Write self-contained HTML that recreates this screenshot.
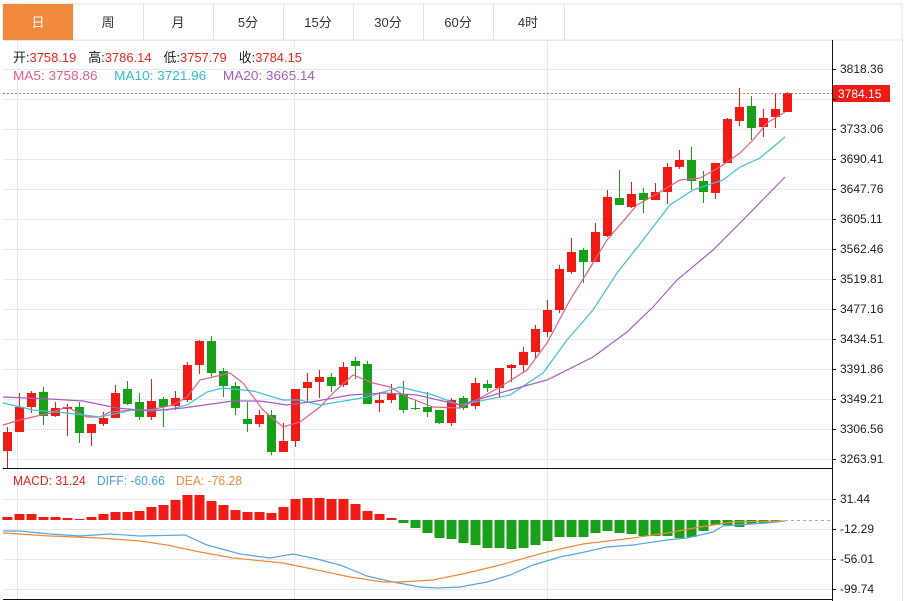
<!DOCTYPE html>
<html><head><meta charset="utf-8"><style>
html,body{margin:0;padding:0;background:#fff;width:911px;height:601px;overflow:hidden;font-family:"Liberation Sans","Noto Sans CJK SC",sans-serif}
</style></head><body>
<svg id="s" width="911" height="601" xmlns="http://www.w3.org/2000/svg" font-family="Liberation Sans, Noto Sans CJK SC, sans-serif">
<rect x="0" y="0" width="911" height="601" fill="#fff"/>
<rect x="3" y="4" width="899" height="36" fill="#fff" stroke="#e3e3e3"/>
<rect x="3" y="4" width="70" height="36" fill="#f0893c"/>
<g stroke="#e3e3e3"><line x1="143.5" y1="4" x2="143.5" y2="40"/><line x1="213.5" y1="4" x2="213.5" y2="40"/><line x1="283.5" y1="4" x2="283.5" y2="40"/><line x1="353.5" y1="4" x2="353.5" y2="40"/><line x1="423.5" y1="4" x2="423.5" y2="40"/><line x1="493.5" y1="4" x2="493.5" y2="40"/><line x1="564.5" y1="4" x2="564.5" y2="40"/></g>
<g font-size="13" text-anchor="middle" fill="#333">
<text x="38" y="27" fill="#fff">日</text><text x="108" y="27">周</text><text x="178" y="27">月</text><text x="248" y="27">5分</text><text x="318" y="27">15分</text><text x="388" y="27">30分</text><text x="458" y="27">60分</text><text x="528" y="27">4时</text>
</g>
<g id="grid" stroke="#e6e9ee" stroke-width="1"></g>
<line x1="3" y1="468.5" x2="832" y2="468.5" stroke="#111"/>
<line x1="3" y1="599.5" x2="832" y2="599.5" stroke="#111"/>
<line x1="832.5" y1="40" x2="832.5" y2="601" stroke="#111"/>
<line x1="902.5" y1="40" x2="902.5" y2="601" stroke="#e3e3e3"/>
<g id="c"></g>
<line x1="3" y1="93.5" x2="832" y2="93.5" stroke="#f06060" stroke-dasharray="2,2"/>
<line x1="785" y1="520.5" x2="832" y2="520.5" stroke="#aab" stroke-dasharray="3,3"/>
<rect x="833" y="85" width="57" height="17" fill="#ee1c14"/>
<text x="838" y="98" font-size="12" fill="#fff">3784.15</text>
<g id="ax" font-size="12" fill="#222"></g>
<g font-size="13">
<text x="13" y="62" textLength="289" lengthAdjust="spacingAndGlyphs"><tspan fill="#222">开:</tspan><tspan fill="#e8231c">3758.19</tspan><tspan fill="#222" dx="12">高:</tspan><tspan fill="#e8231c">3786.14</tspan><tspan fill="#222" dx="12">低:</tspan><tspan fill="#e8231c">3757.79</tspan><tspan fill="#222" dx="12">收:</tspan><tspan fill="#e8231c">3784.15</tspan></text>
<text x="13" y="80" textLength="302" lengthAdjust="spacingAndGlyphs"><tspan fill="#e0608e">MA5: 3758.86</tspan><tspan fill="#33b9cf" dx="16">MA10: 3721.96</tspan><tspan fill="#a45ec0" dx="16">MA20: 3665.14</tspan></text>
<text x="13" y="485" textLength="229" lengthAdjust="spacingAndGlyphs"><tspan fill="#e8231c">MACD: 31.24</tspan><tspan fill="#4b9de0" dx="12">DIFF: -60.66</tspan><tspan fill="#f08a3c" dx="12">DEA: -76.28</tspan></text>
</g>
</svg>
<script>
var NS="http://www.w3.org/2000/svg";
function el(p,t,a){var e=document.createElementNS(NS,t);for(var k in a)e.setAttribute(k,a[k]);document.getElementById(p).appendChild(e);return e;}
var labs=["3818.36","3775.71","3733.06","3690.41","3647.76","3605.11","3562.46","3519.81","3477.16","3434.51","3391.86","3349.21","3306.56","3263.91"];
for(var i=0;i<14;i++){var y=69+i*30;el('grid','line',{x1:3,x2:832,y1:y+.5,y2:y+.5});
 el('ax','line',{x1:832,x2:836,y1:y+.5,y2:y+.5,stroke:'#111'});
 if(i!=1){var t=el('ax','text',{x:840,y:y+4});t.textContent=labs[i];}}
el('grid','line',{x1:3,x2:832,y1:40.5,y2:40.5});
var ml=[["31.44",499],["-12.29",529],["-56.01",559],["-99.74",589]];
ml.forEach(function(m){el('grid','line',{x1:3,x2:832,y1:m[1]+.5,y2:m[1]+.5});el('ax','line',{x1:832,x2:836,y1:m[1]+.5,y2:m[1]+.5,stroke:'#111'});var t=el('ax','text',{x:840,y:m[1]+4});t.textContent=m[0];});
[17.5,294.5,547.5].forEach(function(x){el('grid','line',{x1:x,x2:x,y1:40,y2:599});});
var C=[[1,432,451,427,468],[1,407,432,393,432],[1,393,407,391,413],[0,392,416,387,425],[1,408,416,402,417],[1,407,409,404,436],[0,407,433,402,443],[1,424,433,424,446],[1,418,424,412,426],[1,393,418,385,418],
[0,389,404,381,405],[0,402,417,393,420],[1,401,417,379,420],[0,399,407,397,427],[1,398,406,391,410],[1,365,400,362,402],[1,341,365,340,374],[0,341,373,336,377],[0,371,386,368,397],[0,386,408,382,415],
[0,419,424,402,432],[1,415,424,410,427],[0,415,452,410,455],[1,441,452,423,452],[1,389,441,389,447],[1,382,388,373,401],[1,377,382,370,398],[0,377,386,373,392],[1,367,385,362,387],[0,361,366,357,379],
[0,364,404,361,404],[1,400,403,392,412],[1,394,400,384,403],[0,394,410,381,413],[0,408,409,400,410],[0,407,412,392,417],[0,410,423,410,424],[1,400,423,398,426],[0,398,408,396,410],[1,383,406,378,409],
[0,384,388,380,392],[1,368,388,368,398],[1,365,368,364,382],[1,352,365,347,373],[1,329,352,325,358],[1,310,332,300,337],[1,269,310,265,313],[1,252,272,238,274],[0,250,262,248,283],[1,232,262,223,262],
[1,197,236,190,237],[0,198,205,170,205],[1,194,207,182,208],[0,193,200,188,213],[1,192,200,183,200],[1,167,192,163,204],[1,160,167,150,169],[0,160,181,147,190],[0,181,192,171,203],[1,163,193,163,199],
[1,119,163,118,163],[1,107,121,88,126],[0,106,128,96,140],[1,118,127,109,137],[1,109,117,93,128],[1,93,112,92,112]];
var R='#ee1c14',G='#18a018';
C.forEach(function(c,i){var x=7+12*i,col=c[0]?R:G;
 el('c','line',{x1:x+.5,x2:x+.5,y1:c[3],y2:c[4],stroke:col});
 el('c','rect',{x:x-4,y:c[1],width:9,height:Math.max(1,c[2]-c[1]),fill:col});});
function pl(pts,col){el('c','polyline',{points:pts,fill:'none',stroke:col,'stroke-width':1.2});}
pl("3,425 20,420 50,413 67,407 87,417 100,417 110,412 133,410 150,410 173,405 187,397 200,380 230,373 243,383 263,410 283,427 300,422 320,407 333,393 353,375 373,383 390,387 407,397 433,407 460,408 480,398 500,387 527,370 547,343 570,300 593,263 607,240 637,205 660,192 680,180 700,178 720,167 740,153 753,140 767,123 785,112","#e0608e");
pl("3,403 33,410 67,413 100,417 133,410 167,410 187,405 207,392 223,388 253,391 283,400 300,400 320,405 350,400 367,397 400,387 433,395 460,405 510,395 543,373 567,340 593,310 617,273 643,240 670,205 693,190 723,180 740,167 760,158 785,137","#40c0d4");
pl("3,397 50,399 83,401 117,408 150,411 183,408 233,401 260,401 287,405 317,401 350,395 383,393 417,395 460,405 510,390 547,380 593,357 627,332 653,307 677,280 713,250 743,220 785,177","#a45ec0");
var M=[517,514,514,517,517,518,519,517,514,512,512,511,507,505,500,495,495,501,505,510,512,512,513,507,499,498,498,499,499,504,511,514,518,
523,528,533,538,539,543,545,548,548,549,548,545,541,537,537,537,533,531,533,534,536,536,536,538,537,531,525,525,527,524,523,521];
M.forEach(function(v,i){var x=7+12*i;if(v<520)el('c','rect',{x:x-4.5,y:v,width:10,height:520-v,fill:R});else el('c','rect',{x:x-4.5,y:520,width:10,height:v-520,fill:G});});
pl("3,531 20,531 50,534 80,536 110,534 140,536 185,535 207,545 240,554 270,558 293,554 317,559 340,565 367,576 393,582 420,587 437,588 460,587 487,582 510,575 533,565 560,557 580,553 607,547 633,545 667,540 687,538 713,532 723,526 750,524 767,523 785,521","#5ba5e3");
pl("3,533 50,536 100,538 140,541 167,545 200,552 233,558 283,563 317,570 350,577 383,582 400,582 433,580 467,573 500,565 547,552 583,544 633,538 667,533 700,527 733,522 785,521","#f08a3c");
</script>
</body></html>
